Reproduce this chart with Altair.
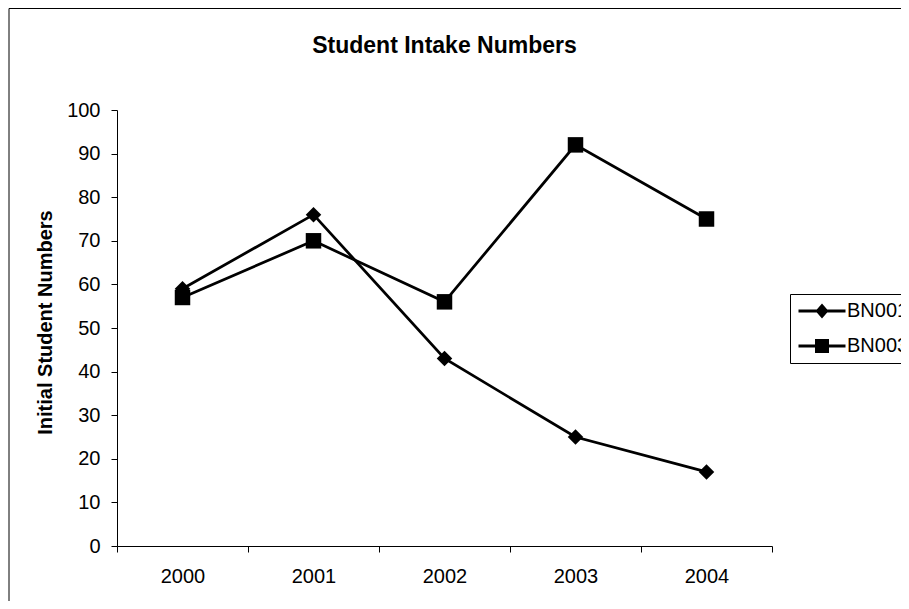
import altair as alt
import pandas as pd

years = ["2000", "2001", "2002", "2003", "2004"]
bn001 = [59, 76, 43, 25, 17]
bn003 = [57, 70, 56, 92, 75]
series_names = ["BN001", "BN003"]
y_ticks = list(range(0, 101, 10))

rows = []
for name, vals in zip(series_names, [bn001, bn003]):
    for yr, v in zip(years, vals):
        rows.append({"year": yr, "value": v, "series": name})
df = pd.DataFrame(rows)

FONT = "Liberation Sans"

x_enc = alt.X(
    "year:O",
    sort=years,
    bandPosition=0.5,
    scale=alt.Scale(type="band", paddingInner=0, paddingOuter=0),
    axis=alt.Axis(
        title=None, tickBand="extent", labelAngle=0, tickSize=6,
        labelPadding=14, labelFontSize=20, labelFont=FONT, labelColor="black",
        domainColor="black", tickColor="black", grid=False,
    ),
)
y_enc = alt.Y(
    "value:Q",
    scale=alt.Scale(domain=[0, 100], nice=False, zero=True),
    axis=alt.Axis(
        values=y_ticks, title="Initial Student Numbers", titleFont=FONT,
        titleFontSize=20, titleFontWeight="bold", titleColor="black",
        titleAngle=-90, titleX=-72, titleY=212, titleAlign="center",
        titleBaseline="middle", tickSize=6, labelPadding=11, labelFontSize=20,
        labelFont=FONT, labelColor="black", domainColor="black",
        tickColor="black", grid=False,
    ),
)

base = alt.Chart(df)

frame = alt.Chart(pd.DataFrame({"a": [0]})).mark_rect(
    fill="white", fillOpacity=0, stroke="black", strokeWidth=1
).encode(
    x=alt.value(-108), x2=alt.value(1000), y=alt.value(-101.5), y2=alt.value(700)
)

lines = base.mark_line(color="black", strokeWidth=2.75).encode(
    x=x_enc, y=y_enc, detail="series:N"
)

# legend glyphs: a filled bar (the line) plus the marker, all filled paths
leg_paths = [
    "M-4.7,-0.28L4.7,-0.28L4.7,0.28L-4.7,0.28Z"
    "M0,-1.5L1.3,0L0,1.5L-1.3,0Z",
    "M-4.7,-0.28L4.7,-0.28L4.7,0.28L-4.7,0.28Z"
    "M-1.4,-1.4L1.4,-1.4L1.4,1.4L-1.4,1.4Z",
]
legend_layer = base.mark_point(
    filled=True, color="black", opacity=1, size=1
).encode(
    x=x_enc, y=y_enc,
    shape=alt.Shape(
        "series:N",
        scale=alt.Scale(domain=series_names, range=leg_paths),
        legend=alt.Legend(
            title=None, orient="none", legendX=673, legendY=184,
            strokeColor="black", padding=7, symbolSize=100,
            symbolFillColor="black", symbolOpacity=1,
            symbolOffset=15, labelOffset=15,
            labelFont=FONT, labelFontSize=20, labelColor="black",
            rowPadding=14,
        ),
    ),
)

points = base.mark_point(filled=True, size=240, color="black", opacity=1).encode(
    x=x_enc, y=y_enc,
    shape=alt.Shape(
        "series:N",
        scale=alt.Scale(domain=series_names, range=["diamond", "square"]),
        legend=None,
    ),
)

chart = (
    alt.layer(frame, lines, legend_layer, points)
    .resolve_scale(shape="independent")
    .properties(
        width=655,
        height=436,
        autosize=alt.AutoSizeParams(type="none"),
        padding={"left": 109, "top": 102, "right": 129, "bottom": 55},
        title=alt.TitleParams(
            "Student Intake Numbers", font=FONT, fontSize=23,
            fontWeight="bold", anchor="middle", color="black", offset=0,
            baseline="alphabetic", dy=68,
        ),
    )
    .configure_view(stroke=None)
)

chart.save("out.html", embed_options={"renderer": "svg", "actions": False})
